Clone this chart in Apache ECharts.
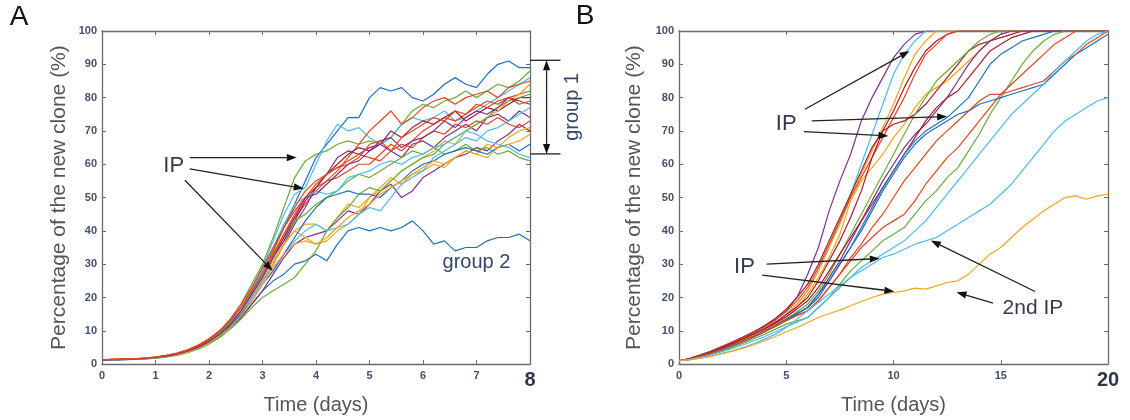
<!DOCTYPE html>
<html><head><meta charset="utf-8">
<script src="https://cdn.jsdelivr.net/npm/echarts@6/dist/echarts.min.js"></script>
<style>html,body{margin:0;padding:0;background:#fff}#c{width:1130px;height:420px}</style>
</head><body><div id="c"></div><script>
// ---------- DATA ----------
const timesA = [0,0.2,0.4,0.6,0.8,1,1.2,1.4,1.6,1.8,2,2.2,2.4,2.6,2.8,3,3.2,3.4,3.6,3.8,4,4.2,4.4,4.6,4.8,5,5.2,5.4,5.6,5.8,6,6.2,6.4,6.6,6.8,7,7.2,7.4,7.6,7.8,8];
const timesB = [0,0.5,1,1.5,2,2.5,3,3.5,4,4.5,5,5.5,6,6.5,7,7.5,8,8.5,9,9.5,10,10.5,11,11.5,12,12.5,13,13.5,14,14.5,15,15.5,16,16.5,17,17.5,18,18.5,19,19.5,20];

const cloneA1 = [1.2,1.3,1.3,1.5,1.7,2.0,2.4,3.1,4.0,5.3,7.0, 9.5,13,17,22,28,34,41,48,55,62, 66,70,74,74,80,83,82,83,80,79, 81,84,86,84,83,87,90,91,89,89];
const cloneA2 = [1.2,1.3,1.4,1.5,1.6,1.9,2.3,2.9,3.7,4.8,6.3, 8.5,11,14,18,22,25,27,30,31,33, 31,36,40,41,40,41,40,41,43,40, 36,37,34,35,35,37,38,38,39,37];
const cloneA3 = [1.2,1.3,1.4,1.5,1.7,2.0,2.5,3.2,4.2,5.6,7.4, 10,13.5,18,24,30,38,47,56,61,63, 64,66,67,66,67,66,68,72,76,78, 77,79,80,82,80,82,84,83,85,88];
const cloneA4 = [1.2,1.3,1.4,1.5,1.7,2.0,2.4,3.1,4.0,5.4,7.2, 10,13,17,23,29,37,45,51,53,60, 67,72,70,71,68,66,68,72,74,73, 74,76,73,74,76,78,80,82,84,86];
const cloneA5 = [1.3,1.4,1.5,1.6,1.8,2.1,2.5,3.2,4.2,5.6,7.5, 10,13,17,22,28,34,41,46,50,53, 55,58,62,66,70,73,76,72,74,77, 79,80,78,80,81,82,80,83,84,85];
const cloneA6 = [1.3,1.4,1.5,1.6,1.8,2.1,2.6,3.3,4.3,5.7,7.6, 10,13,17,22,27,33,39,44,48,52, 55,56,58,60,60,63,66,64,67,70, 72,74,73,75,77,79,78,80,81,82];
const cloneA7 = [1.2,1.3,1.4,1.5,1.7,2.0,2.4,3.0,3.9,5.2,6.9, 9.3,12.5,16,21,26,32,37,43,49,53, 57,60,63,65,64,66,70,68,71,73, 72,74,76,73,75,77,76,78,80,80];
const cloneA8 = [1.3,1.3,1.4,1.5,1.6,1.9,2.3,2.9,3.7,4.9,6.4, 8.6,11.5,15,20,25,30,36,42,47,53, 57,62,64,63,65,66,64,62,66,67, 65,68,70,72,70,74,75,73,76,74];
const cloneA9 = [1.2,1.3,1.3,1.4,1.6,1.8,2.2,2.8,3.6,4.7,6.2, 8.3,11,14,18,22,27,32,36,38,39, 40,43,46,45,48,52,54,50,52,56, 58,60,62,63,65,64,67,69,72,70];
const cloneA10 = [1.3,1.4,1.5,1.6,1.7,2.0,2.4,3.0,3.9,5.1,6.8, 9,12,15.5,20,25,30,36,40,42,42, 40,44,48,47,50,53,56,54,57,58, 60,59,62,64,63,66,65,68,70,71];
const cloneA11 = [1.2,1.3,1.4,1.5,1.7,2.0,2.4,3.0,3.9,5.2,6.9, 9.2,12,16,21,26,31,36,40,38,36, 37,40,42,45,50,52,55,58,60,62, 64,67,66,70,72,74,76,79,81,84];
const cloneA12 = [1.1,1.2,1.3,1.4,1.5,1.8,2.1,2.6,3.4,4.5,6.0, 8,10.5,13.5,17,20,22,24,26,30,34, 40,44,47,51,53,52,55,58,60,62, 63,66,68,70,72,74,77,79,80,81];
const cloneA13 = [1.2,1.3,1.4,1.5,1.7,2.0,2.4,3.0,3.9,5.2,6.9, 9.2,12.5,16,21,27,33,38,43,45,48, 50,52,55,57,56,58,60,62,64,63, 65,63,64,66,64,65,63,64,62,61];
const cloneA14 = [1.2,1.3,1.4,1.5,1.7,1.9,2.3,2.9,3.8,5.0,6.6, 8.8,11.8,15,20,25,29,33,37,40,42, 40,41,42,45,47,46,50,54,56,58, 62,64,66,68,67,70,71,73,75,77];
const cloneA15 = [1.2,1.3,1.4,1.5,1.7,2.0,2.5,3.1,4.0,5.3,7.1, 9.6,13,17,22,28,35,42,48,50,52, 51,52,56,57,58,60,61,60,62,63, 65,66,68,70,69,67,66,65,63,62];
const cloneA16 = [1.2,1.3,1.4,1.5,1.6,1.9,2.3,2.9,3.8,5.0,6.6, 8.8,11.5,15,19,24,28,33,38,43,47, 50,51,52,51,51,50,53,55,58,60, 61,63,64,65,64,63,65,66,64,66];
const cloneA17 = [1.3,1.4,1.5,1.6,1.8,2.1,2.5,3.1,4.1,5.4,7.2, 9.7,13,17,22,27,33,39,45,50,54, 57,59,61,63,62,61,64,66,65,68, 70,69,72,71,73,72,74,72,71,73];
const cloneA18 = [1.2,1.3,1.4,1.5,1.6,1.9,2.3,2.8,3.6,4.8,6.3, 8.5,11,14.5,19,24,29,33,36,37,36, 38,41,44,46,48,51,53,55,57,59, 61,60,62,64,63,62,65,66,67,69];
const cloneA19 = [1.2,1.3,1.4,1.5,1.7,2.0,2.4,3.0,3.9,5.1,6.8, 9,12,16,21,26,32,38,44,50,51, 54,57,60,61,64,67,68,65,67,68, 70,73,71,74,76,75,77,80,79,78];
const cloneA20 = [1.3,1.4,1.5,1.6,1.8,2.1,2.6,3.2,4.2,5.6,7.4, 10,13.5,18,23,29,35,41,47,52,55, 57,59,60,62,66,67,64,68,70,72, 74,73,76,75,78,77,79,80,78,79];

const cloneB1 = [1,1.6,2.6,3.8,5.2,6.5,8,9.6,11.4,13.5,16,20,27,35,46,55,63,73,80,86,92,96,99,100,100,100,100,100,100,100,100,100,100,100,100,100,100,100,100,100,100];
const cloneB2 = [1,1.5,2.4,3.4,4.6,5.9,7.3,8.8,10.5,12.5,15,18,22,28,35,43,51,60,69,78,87,93,97,100,100,100,100,100,100,100,100,100,100,100,100,100,100,100,100,100,100];
const cloneB3 = [1,1.5,2.5,3.5,4.7,6,7.4,8.9,10.6,12.6,15,18,22,28,35,42,50,57,64,71,78,86,93,97,100,100,100,100,100,100,100,100,100,100,100,100,100,100,100,100,100];
const cloneB4 = [1,1.7,2.8,3.9,5.3,6.7,8.2,9.8,11.6,13.8,16.5,20,24,30,37,44,51,58,65,70,76,83,89,94,97,99,100,100,100,100,100,100,100,100,100,100,100,100,100,100,100];
const cloneB5 = [1,1.6,2.7,3.8,5.1,6.5,8,9.5,11.2,13.2,15.8,19,23,29,36,43,50,56,62,68,74,80,87,93,96,99,100,100,100,100,100,100,100,100,100,100,100,100,100,100,100];
const cloneB6 = [1,1.5,2.4,3.4,4.6,5.8,7.2,8.6,10.2,12,14,17,21,26,32,39,49,55,59,63,68,72,77,81,83,85,88,91,94,97,99,100,100,100,100,100,100,100,100,100,100];
const cloneB7 = [1,1.6,2.6,3.6,4.9,6.2,7.6,9.1,10.7,12.6,14.8,17.2,20,25,31,37,44,52,62,70,72,73,75,78,82,86,90,94,96,97,98,99,100,100,100,100,100,100,100,100,100];
const cloneB8 = [1,1.4,2.2,3.1,4.2,5.4,6.7,8.1,9.7,11.5,13.5,15.7,18,22,27,33,39,45,51,57,63,69,75,80,85,88,91,94,97,99,100,100,100,100,100,100,100,100,100,100,100];
const cloneB9 = [1,1.5,2.4,3.4,4.5,5.7,7,8.4,9.9,11.6,13.4,15.2,17,21,26,31,37,43,49,55,60,65,69,72,76,80,85,90,94,97,99,100,100,100,100,100,100,100,100,100,100];
const cloneB10 = [1,1.6,2.6,3.7,5,6.3,7.7,9.1,10.6,12.3,14.2,16.5,19,23,28,33,38,43,48,53,58,63,68,73,77,80,82,86,90,94,96,98,99,100,100,100,100,100,100,100,100];
const cloneB11 = [1,1.4,2.3,3.2,4.3,5.5,6.8,8.2,9.7,11.4,13.2,15,17,20,25,30,35,41,47,53,58,63,67,70,72,74,77,80,85,90,93,95,97,98,99,100,100,100,100,100,100];
const cloneB12 = [1,1.3,2.1,3,4,5.1,6.3,7.6,9,10.5,12,13,14,17,20,24,28,31,34,37,39,41,45,49,52,56,59,64,69,75,80,85,90,94,97,99,100,100,100,100,100];
const cloneB13 = [1,1.5,2.4,3.3,4.4,5.6,6.9,8.3,9.8,11.4,13,14.6,16,19,23,27,31,35,38,41,43,45,49,54,58,62,65,69,73,77,81,84,87,90,93,96,98,100,100,100,100];
const cloneB14 = [1,1.5,2.4,3.4,4.5,5.7,7,8.4,9.9,11.6,13.4,15.2,17,21,25,30,35,40,46,52,57,62,66,69,71,73,75,76,78,79,80,81,82,83,84,87,90,93,95,97,99];
const cloneB15 = [1,1.5,2.3,3.3,4.4,5.6,6.9,8.3,9.8,11.4,13.1,14.6,16,19,23,27,32,36,41,45,50,55,59,63,67,70,73,76,79,81,81,82,83,84,85,88,91,93,96,98,100];
const cloneB16 = [1,1.3,2,2.8,3.7,4.7,5.8,7,8.3,9.7,11.2,12.6,14,17,20,23,26,29,31,33,35,37,40,43,47,51,55,59,63,67,71,75,78,81,84,88,91,94,97,99,100];
const cloneB17 = [1,1.3,1.8,2.4,3.2,4,5,6.2,7.5,9,11,13.5,16,18.5,21,23.5,26,28,30,32,33,34.5,36,37,38,40,42,44,46,48,51,54,58,62,66,70,73,75,77,79,80];
const cloneB18 = [1,1.3,1.8,2.4,3.1,3.9,4.8,5.8,7,8.3,9.7,11,12.5,14,15.2,16.2,17.5,18.8,20,21,21.5,22,22.8,22.5,23.5,24.5,25,27,30,33,35,38,41,43.5,46,48,50,50.5,49.5,50.5,51];

const seriesA = [cloneA1,cloneA2,cloneA3,cloneA4,cloneA5,cloneA6,cloneA7,cloneA8,cloneA9,cloneA10,cloneA11,cloneA12,cloneA13,cloneA14,cloneA15,cloneA16,cloneA17,cloneA18,cloneA19,cloneA20];
const seriesB = [cloneB1,cloneB2,cloneB3,cloneB4,cloneB5,cloneB6,cloneB7,cloneB8,cloneB9,cloneB10,cloneB11,cloneB12,cloneB13,cloneB14,cloneB15,cloneB16,cloneB17,cloneB18];

// ---------- STYLE ----------
const C = {blue:'#1f6fc0', red:'#e1471e', orange:'#f2a520', purple:'#7e2f8e', green:'#6aab38', cyan:'#4cbbee', dred:'#a61e30'};
const colorsA = [C.blue,C.blue,C.green,C.cyan,C.red,C.red,C.dred,C.purple,C.purple,C.orange,C.orange,C.green,C.green,C.cyan,C.cyan,C.blue,C.red,C.orange,C.purple,C.red];
const colorsB = [C.purple,C.cyan,C.orange,C.dred,C.red,C.orange,C.dred,C.green,C.purple,C.dred,C.blue,C.green,C.red,C.blue,C.red,C.cyan,C.cyan,C.orange];

const FONT = '"Liberation Sans", Arial, Helvetica, sans-serif';
const AXC = '#6a6a6a';
const LBL = '#43506b';

function xAx(grid, max, interval, pos, main) {
  return {
    type:'value', gridIndex:grid, min:0, max:max, interval:interval, position:pos,
    name: main ? 'Time (days)' : '', nameLocation:'middle', nameGap:21,
    nameTextStyle:{fontFamily:FONT, fontSize:20, color:'#555'},
    axisLine:{show:true, onZero:false, lineStyle:{color:AXC, width:1.3}},
    axisTick:{show:true, inside:true, length:4, lineStyle:{color:AXC}},
    axisLabel:{show:main, margin:6, fontFamily:FONT, showMinLabel:true, showMaxLabel:true,
      formatter: v => v === max ? '{big|' + v + '}' : '{n|' + v + '}',
      rich:{n:{fontSize:11, fontWeight:'bold', color:LBL, fontFamily:FONT}, big:{fontSize:20, fontWeight:'bold', color:'#2e3748', fontFamily:FONT}}},
    splitLine:{show:false}
  };
}
function yAx(grid, pos, main, gap) {
  return {
    type:'value', gridIndex:grid, min:0, max:100, interval:10, position:pos,
    name: main ? 'Percentage of the new clone (%)' : '', nameLocation:'middle', nameGap:gap, nameRotate:90,
    nameTextStyle:{fontFamily:FONT, fontSize:21, color:'#555'},
    axisLine:{show:true, onZero:false, lineStyle:{color:AXC, width:1.3}},
    axisTick:{show:true, inside:true, length:4, lineStyle:{color:AXC}},
    axisLabel:{show:main, margin:5, fontFamily:FONT, fontSize:11, fontWeight:'bold', color:LBL, showMinLabel:true, showMaxLabel:true},
    splitLine:{show:false}
  };
}

const series = [];
seriesA.forEach((vals,i) => series.push({type:'line', xAxisIndex:0, yAxisIndex:0,
  data: timesA.map((t,j)=>[t, vals[j]]), symbol:'none', showSymbol:false, silent:true,
  lineStyle:{width:1.2, color:colorsA[i]}, itemStyle:{color:colorsA[i]}}));
seriesB.forEach((vals,i) => series.push({type:'line', xAxisIndex:2, yAxisIndex:2,
  data: timesB.map((t,j)=>[t, vals[j]]), symbol:'none', showSymbol:false, silent:true,
  lineStyle:{width:1.2, color:colorsB[i]}, itemStyle:{color:colorsB[i]}}));

const chart = echarts.init(document.getElementById('c'), null, {renderer:'canvas'});
chart.setOption({
  animation:false,
  backgroundColor:'#fff',
  grid:[{left:102, width:428, top:31, height:336}, {left:679, width:429, top:31, height:336}],
  xAxis:[xAx(0,8,1,'bottom',true), xAx(0,8,1,'top',false), xAx(1,20,5,'bottom',true), xAx(1,20,5,'top',false)],
  yAxis:[yAx(0,'left',true,32), yAx(0,'right',false,0), yAx(1,'left',true,34), yAx(1,'right',false,0)],
  series: series
});

// ---------- ANNOTATIONS (data coordinates -> pixels via the chart's scales) ----------
const annA = {
  texts:[{t:'IP', at:[1.34,59.4], size:22}, {t:'group 2', at:[7.0,30.4], size:20, color:'#34466a'}],
  arrows:[[[1.64,62.0],[3.64,62.0]], [[1.64,58.6],[3.77,52.7]], [[1.55,55.2],[3.19,28.0]]]
};
const annB = {
  texts:[{t:'IP', at:[5.0,72.2], size:22}, {t:'IP', at:[3.05,29.2], size:22}, {t:'2nd IP', at:[16.5,16.8], size:21}],
  arrows:[[[5.87,76.5],[10.75,94.0]], [[6.19,73.0],[12.5,74.3]], [[5.83,69.8],[9.76,68.5]],
          [[4.09,30.0],[9.36,31.7]], [[3.88,26.7],[10.04,21.8]],
          [[16.6,21.8],[11.74,37.1]], [[14.64,18.3],[12.94,21.6]]]
};
const bracketA = {top:91.2, bottom:63.1, x0:8.0, x1:8.57, xa:8.31, label:[8.8,77.2]};

const pA = p => chart.convertToPixel({seriesIndex:0}, p);
const pB = p => chart.convertToPixel({seriesIndex:seriesA.length}, p);

function arrow(p0, p1, head, w) {
  head = head || 10; w = w || 3.6;
  const dx=p1[0]-p0[0], dy=p1[1]-p0[1], L=Math.hypot(dx,dy), ux=dx/L, uy=dy/L;
  const bx=p1[0]-ux*head, by=p1[1]-uy*head;
  return [
    {type:'line', silent:true, z:100, shape:{x1:p0[0],y1:p0[1],x2:bx,y2:by}, style:{stroke:'#222', lineWidth:1.3}},
    {type:'polygon', silent:true, z:100, shape:{points:[[p1[0],p1[1]],[bx-uy*w,by+ux*w],[bx+uy*w,by-ux*w]]}, style:{fill:'#111'}}
  ];
}
function text(str, p, size, color, rot) {
  return {type:'text', silent:true, z:100, x:p[0], y:p[1], rotation:rot||0,
    style:{text:str, fontFamily:FONT, fontSize:size, fill:color||'#333a4a', align:'center', verticalAlign:'middle'}};
}

const g = [];
g.push(text('A', [19,17], 28, '#111'));
g.push(text('B', [585,16], 28, '#111'));
annA.texts.forEach(o => g.push(text(o.t, pA(o.at), o.size, o.color)));
annA.arrows.forEach(a => g.push(...arrow(pA(a[0]), pA(a[1]))));
annB.texts.forEach(o => g.push(text(o.t, pB(o.at), o.size, o.color)));
annB.arrows.forEach(a => g.push(...arrow(pB(a[0]), pB(a[1]))));
// group 1 bracket
[bracketA.top, bracketA.bottom].forEach(y => {
  const a = pA([bracketA.x0, y]), b = pA([bracketA.x1, y]);
  g.push({type:'line', silent:true, z:100, shape:{x1:a[0],y1:a[1],x2:b[0],y2:b[1]}, style:{stroke:'#222', lineWidth:1.3}});
});
const mid = pA([bracketA.xa, (bracketA.top + bracketA.bottom)/2]);
g.push(...arrow(mid, pA([bracketA.xa, bracketA.top]), 10, 3.6));
g.push(...arrow(mid, pA([bracketA.xa, bracketA.bottom]), 10, 3.6));
g.push(text('group 1', pA(bracketA.label), 20, '#34466a', Math.PI/2));

chart.setOption({graphic: g});
</script></body></html>
